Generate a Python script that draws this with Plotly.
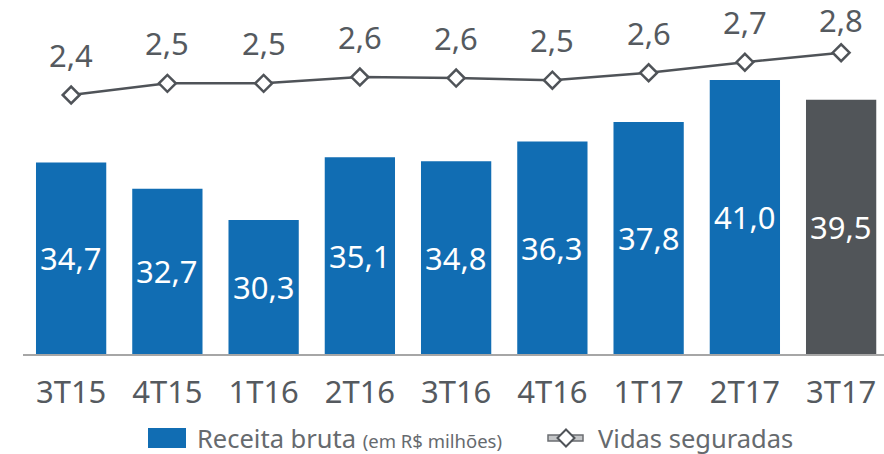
import plotly.graph_objects as go

categories = ["3T15", "4T15", "1T16", "2T16", "3T16", "4T16", "1T17", "2T17", "3T17"]
receita = [34.7, 32.7, 30.3, 35.1, 34.8, 36.3, 37.8, 41.0, 39.5]
vidas = [2.40, 2.51, 2.51, 2.57, 2.56, 2.54, 2.61, 2.71, 2.80]

BLUE = "#116db3"
GRAY_BAR = "#515559"
LINE = "#4f5358"
TXT = "#555a5f"
FONT = "Noto Sans"

W, H = 884, 454
L, R, T, B = 23, 0, 10, 100
PW, PH = W - L - R, H - T - B
BASE_Y = 354  # plot bottom in px

def px(x):
    return (x - L) / PW

def py(y):
    return (BASE_Y - y) / PH

YMIN = 20.06
Y2_PX_PER_UNIT = 105.75
Y2_REF_V, Y2_REF_PX = 2.4, 95

bar_colors = [BLUE] * (len(categories) - 1) + [GRAY_BAR]

fig = go.Figure()
fig.add_trace(go.Bar(
    x=categories, y=receita,
    marker=dict(color=bar_colors, line=dict(width=0)),
    showlegend=False, yaxis="y", hoverinfo="x+y",
))
fig.add_trace(go.Scatter(
    x=categories, y=vidas, mode="lines+markers", yaxis="y2",
    line=dict(color=LINE, width=2.5),
    marker=dict(symbol="diamond", size=13, color="white", line=dict(color=LINE, width=2.5)),
    showlegend=False, cliponaxis=False,
))

annotations = []
for c, v in zip(categories, receita):
    annotations.append(dict(
        x=c, y=(v + YMIN) / 2, xref="x", yref="y", text=f"{v:.1f}".replace(".", ","),
        showarrow=False, font=dict(family=FONT, size=31, color="white"),
    ))
for c, v in zip(categories, vidas):
    marker_px = Y2_REF_PX - (v - Y2_REF_V) * Y2_PX_PER_UNIT
    shift = min(40, marker_px - 20)
    annotations.append(dict(
        x=c, y=v, xref="x", yref="y2", text=f"{v:.1f}".replace(".", ","),
        showarrow=False, yshift=shift, font=dict(family=FONT, size=31, color=TXT),
    ))

# custom legend
annotations.append(dict(
    x=px(195), y=py(438), xref="paper", yref="paper", xanchor="left", yanchor="middle",
    text="Receita bruta <span style='font-size:18.5px'>(em R$ milhões)</span>",
    showarrow=False, font=dict(family=FONT, size=25.5, color="#666a6e"),
))
annotations.append(dict(
    x=px(596), y=py(438), xref="paper", yref="paper", xanchor="left", yanchor="middle",
    text="Vidas seguradas", showarrow=False, font=dict(family=FONT, size=25.5, color="#666a6e"),
))

shapes = [
    dict(type="rect", xref="paper", yref="paper", x0=px(148), x1=px(186), y0=py(448), y1=py(428),
         fillcolor=BLUE, line=dict(width=0)),
    dict(type="rect", xref="paper", yref="paper", x0=px(548), x1=px(583), y0=py(441), y1=py(435),
         fillcolor="#c4c6c8", line=dict(color="#6b6e72", width=1.5)),
    dict(type="path", xref="paper", yref="paper",
         path=f"M {px(566)} {py(429.5)} L {px(574.5)} {py(438)} L {px(566)} {py(446.5)} L {px(557.5)} {py(438)} Z",
         fillcolor="white", line=dict(color=LINE, width=2)),
]

fig.update_layout(
    width=W, height=H, margin=dict(l=L, r=R, t=T, b=B),
    paper_bgcolor="white", plot_bgcolor="white",
    separators=",.", bargap=0.27,
    font=dict(family=FONT, color=TXT),
    xaxis=dict(
        range=[-0.5, -0.5 + PW / 96.25], showgrid=False, zeroline=False,
        showline=True, linecolor="#a6a6a6", linewidth=2,
        ticks="outside", ticklen=10, tickcolor="rgba(0,0,0,0)",
        tickfont=dict(family=FONT, size=31, color=TXT),
    ),
    yaxis=dict(range=[YMIN, YMIN + PH / 13.08], visible=False, showgrid=False),
    yaxis2=dict(range=[Y2_REF_V - (354 - Y2_REF_PX) / Y2_PX_PER_UNIT,
                       Y2_REF_V + (Y2_REF_PX - 10) / Y2_PX_PER_UNIT],
                overlaying="y", visible=False, showgrid=False),
    annotations=annotations, shapes=shapes,
)

fig.write_html("out.html", config={"displayModeBar": False},
               post_script="document.body.style.margin='0px';document.body.style.overflow='hidden';")
